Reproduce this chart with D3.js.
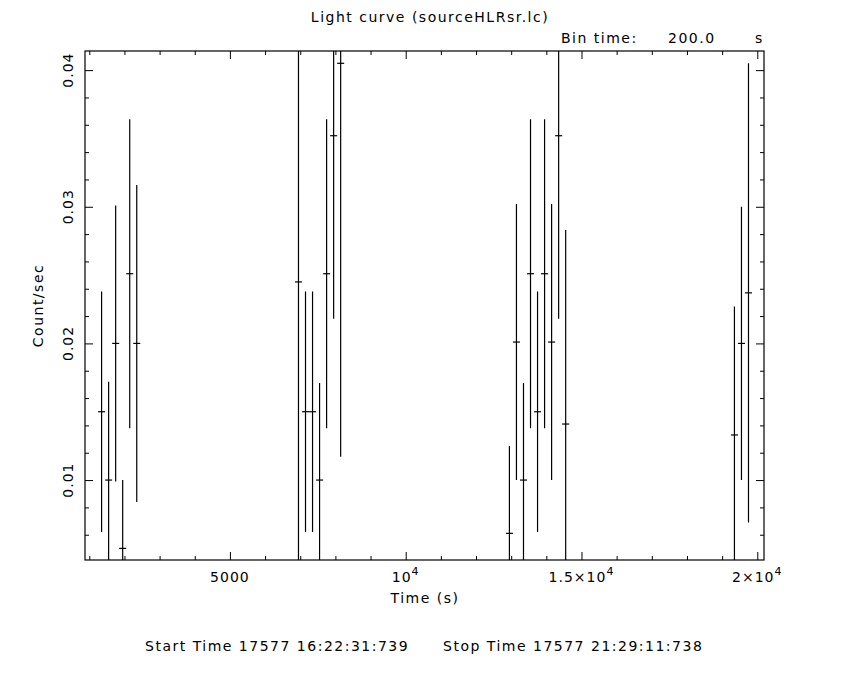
<!DOCTYPE html>
<html>
<head>
<meta charset="utf-8">
<script src="https://cdn.jsdelivr.net/npm/d3@7"></script>
<style>
  body { margin: 0; background: #fff; }
  svg { display: block; }
  text { font-family: "DejaVu Sans", sans-serif; fill: #000; }
</style>
</head>
<body>
<svg id="chart" width="850" height="680"></svg>
<script>
// ---- data ----
const binTime = 200; // seconds
const times = [
  1350, 1550, 1750, 1950, 2150, 2350,
  6950, 7150, 7350, 7550, 7750, 7950, 8150,
  12950, 13150, 13350, 13550, 13750, 13950, 14150, 14350, 14550,
  19350, 19550, 19750
];
const rates = [
  0.0150, 0.0100, 0.0200, 0.0050, 0.0251, 0.0200,
  0.0245, 0.0150, 0.0150, 0.0100, 0.0251, 0.0352, 0.0405,
  0.0061, 0.0201, 0.0100, 0.0251, 0.0150, 0.0251, 0.0201, 0.0352, 0.0141,
  0.0133, 0.0200, 0.0237
];
const errors = [
  0.0088, 0.0072, 0.0101, 0.0050, 0.0113, 0.0116,
  0.0260, 0.0088, 0.0088, 0.0071, 0.0113, 0.0134, 0.0288,
  0.0064, 0.0101, 0.0071, 0.0113, 0.0088, 0.0113, 0.0101, 0.0134, 0.0142,
  0.0094, 0.0100, 0.0168
];
const xMajorTicks = [5000, 10000, 15000, 20000];
const xMajorLabels = [["5000", null], ["10", "4"], ["1.5\u00d710", "4"], ["2\u00d710", "4"]];
const yMajorTicks = [0.01, 0.02, 0.03, 0.04];
const yMajorLabels = ["0.01", "0.02", "0.03", "0.04"];
const titleText = "Light curve (sourceHLRsr.lc)";
const xTitle = "Time (s)";
const yTitle = "Count/sec";
const startText = "Start Time 17577 16:22:31:739";
const stopText = "Stop Time 17577 21:29:11:738";

// ---- layout ----
const L = 85, R = 764, T = 51, B = 560;
const svg = d3.select("#chart");
const x = d3.scaleLinear().domain([878, 20191]).range([L, R]);
const y = d3.scaleLinear().domain([0.00415, 0.0414]).range([B, T]);

const xMinor = d3.range(1000, 20001, 1000).filter(v => !xMajorTicks.includes(v));
const yMinor = d3.range(0.006, 0.0401, 0.002).filter(v => !yMajorTicks.some(m => Math.abs(m - v) < 1e-6));

// clip
svg.append("defs").append("clipPath").attr("id", "clip")
  .append("rect").attr("x", L).attr("y", T).attr("width", R - L).attr("height", B - T);

// axes via d3 (ticks inward, on all sides)
function styleAxis(g) {
  g.select(".domain").remove();
  g.selectAll("line").attr("stroke", "#000").attr("stroke-width", 1);
  g.selectAll("text").remove();
}
svg.append("g").attr("transform", `translate(0,${B})`)
  .call(d3.axisBottom(x).tickValues(xMajorTicks).tickSize(-8).tickFormat("")).call(styleAxis);
svg.append("g").attr("transform", `translate(0,${B})`)
  .call(d3.axisBottom(x).tickValues(xMinor).tickSize(-4).tickFormat("")).call(styleAxis);
svg.append("g").attr("transform", `translate(0,${T})`)
  .call(d3.axisTop(x).tickValues(xMajorTicks).tickSize(-8).tickFormat("")).call(styleAxis);
svg.append("g").attr("transform", `translate(0,${T})`)
  .call(d3.axisTop(x).tickValues(xMinor).tickSize(-4).tickFormat("")).call(styleAxis);
svg.append("g").attr("transform", `translate(${L},0)`)
  .call(d3.axisLeft(y).tickValues(yMajorTicks).tickSize(-8).tickFormat("")).call(styleAxis);
svg.append("g").attr("transform", `translate(${L},0)`)
  .call(d3.axisLeft(y).tickValues(yMinor).tickSize(-4).tickFormat("")).call(styleAxis);
svg.append("g").attr("transform", `translate(${R},0)`)
  .call(d3.axisRight(y).tickValues(yMajorTicks).tickSize(-8).tickFormat("")).call(styleAxis);
svg.append("g").attr("transform", `translate(${R},0)`)
  .call(d3.axisRight(y).tickValues(yMinor).tickSize(-4).tickFormat("")).call(styleAxis);

// frame
svg.append("rect").attr("x", L).attr("y", T).attr("width", R - L).attr("height", B - T)
  .attr("fill", "none").attr("stroke", "#000").attr("stroke-width", 1.2);

// x tick labels
const xl = svg.append("g");
xMajorTicks.forEach((v, i) => {
  const [base, sup] = xMajorLabels[i];
  const t = xl.append("text").attr("x", x(v)).attr("y", 582)
    .attr("text-anchor", "middle").attr("font-size", 14).attr("letter-spacing", 1);
  t.append("tspan").text(base);
  if (sup) t.append("tspan").attr("dy", -7).attr("font-size", 11).text(sup);
});
// y tick labels
yMajorTicks.forEach((v, i) => {
  svg.append("text").attr("transform", `translate(73,${y(v)}) rotate(-90)`)
    .attr("text-anchor", "middle").attr("font-size", 14).attr("letter-spacing", 1)
    .text(yMajorLabels[i]);
});

// titles
const ls = 1.5;
svg.append("text").attr("x", 425).attr("y", 603).attr("text-anchor", "middle")
  .attr("font-size", 14).attr("letter-spacing", ls).text(xTitle);
svg.append("text").attr("transform", `translate(43,${(T + B) / 2}) rotate(-90)`)
  .attr("text-anchor", "middle").attr("font-size", 14).attr("letter-spacing", ls).text(yTitle);
svg.append("text").attr("x", 430).attr("y", 22).attr("text-anchor", "middle")
  .attr("font-size", 14).attr("letter-spacing", ls).text(titleText);
svg.append("text").attr("x", 561).attr("y", 43).attr("font-size", 14).attr("letter-spacing", ls).text("Bin time:");
svg.append("text").attr("x", 668).attr("y", 43).attr("font-size", 14).attr("letter-spacing", ls).text(binTime.toFixed(1));
svg.append("text").attr("x", 755).attr("y", 43).attr("font-size", 14).text("s");
svg.append("text").attr("x", 145).attr("y", 651).attr("font-size", 14).attr("letter-spacing", ls).text(startText);
svg.append("text").attr("x", 443).attr("y", 651).attr("font-size", 14).attr("letter-spacing", ls).text(stopText);

// data: error bars
const pts = times.map((t, i) => ({ t, v: rates[i], e: errors[i] }));
const g = svg.append("g").attr("clip-path", "url(#clip)")
  .attr("stroke", "#000").attr("stroke-width", 1.2);
g.selectAll("line.v").data(pts).join("line").attr("class", "v")
  .attr("x1", d => x(d.t)).attr("x2", d => x(d.t))
  .attr("y1", d => y(d.v - d.e)).attr("y2", d => y(d.v + d.e));
g.selectAll("line.h").data(pts).join("line").attr("class", "h")
  .attr("x1", d => x(d.t - binTime / 2)).attr("x2", d => x(d.t + binTime / 2))
  .attr("y1", d => y(d.v)).attr("y2", d => y(d.v));
</script>
</body>
</html>
